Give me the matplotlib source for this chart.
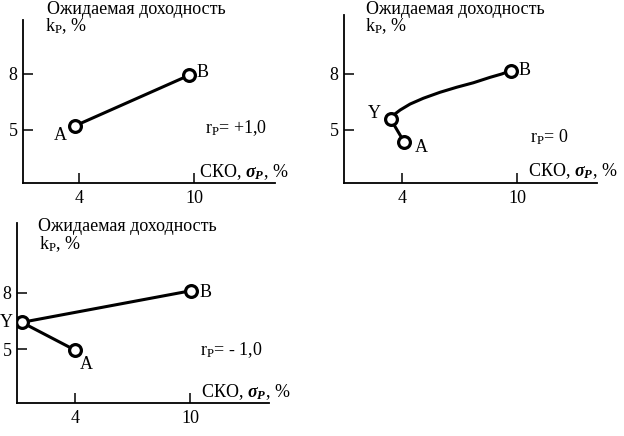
import matplotlib
matplotlib.use('Agg')
import matplotlib.pyplot as plt

plt.rcParams['font.family'] = ['Liberation Serif', 'DejaVu Serif']
plt.rcParams['mathtext.fontset'] = 'custom'
plt.rcParams['mathtext.rm'] = 'Liberation Serif'
plt.rcParams['mathtext.it'] = 'Liberation Serif:italic'
plt.rcParams['mathtext.bf'] = 'Liberation Serif:bold:italic'

W, H = 624, 436
FS = 13

# --- data (σ, k) ---
x_ticks = [4, 10]
y_ticks = [5, 8]

# r = +1
p1_x = [3.81, 9.74]
p1_y = [5.23, 7.93]
p1_names = ['A', 'B']

# r = 0 : A -> Y, then curve Y -> B
p2_x = [4.12, 3.41, 3.63, 3.90, 4.42, 5.11, 5.98, 6.85, 7.72, 8.59, 9.20, 9.67]
p2_y = [4.34, 5.57, 5.86, 6.07, 6.39, 6.70, 7.02, 7.29, 7.53, 7.82, 8.00, 8.18]
p2_pts_x = [4.12, 3.41, 9.67]
p2_pts_y = [4.34, 5.57, 8.18]
p2_names = ['A', 'Y', 'B']

# r = -1
p3_x = [4.0, 1.22, 10.03]
p3_y = [4.96, 6.43, 8.10]
p3_names = ['A', 'Y', 'B']

TITLE = 'Ожидаемая доходность'
YLAB = r'k$_{\mathrm{P}}$, %'
XLAB = r'СКО, $\mathbf{\sigma_{P}}$, %'


def px(x, y):
    return x / W, 1 - y / H


def make_axes(fig, left, right, top, bottom, xlim, ylim):
    ax = fig.add_axes([left / W, 1 - bottom / H, (right - left) / W, (bottom - top) / H])
    ax.set_xlim(*xlim)
    ax.set_ylim(*ylim)
    for s in ['top', 'right']:
        ax.spines[s].set_visible(False)
    for s in ['left', 'bottom']:
        ax.spines[s].set_linewidth(1.3)
    ax.set_xticks(x_ticks)
    ax.set_yticks(y_ticks)
    ax.tick_params(direction='in', length=7.5, width=1.1, labelsize=FS)
    ax.tick_params(axis='x', pad=5)
    ax.tick_params(axis='y', pad=4)
    ax.patch.set_alpha(0)
    return ax


def draw_points(ax, xs, ys, names, offsets):
    ax.plot(xs, ys, 'o', ms=8.5, mfc='white', mec='black', mew=2.3, zorder=3)
    for x, y, n, off in zip(xs, ys, names, offsets):
        ax.annotate(n, (x, y), xytext=off, textcoords='offset points',
                    ha='center', va='center', fontsize=FS)


def headers(fig, tx, ty, kx, ky, lx, ly, rx, ry, rtext):
    fig.text(*px(tx, ty), TITLE, fontsize=FS, ha='left', va='center')
    fig.text(*px(kx, ky), YLAB, fontsize=FS, ha='left', va='center')
    fig.text(*px(lx, ly), XLAB, fontsize=FS, ha='left', va='center')
    fig.text(*px(rx, ry), rtext, fontsize=FS, ha='left', va='center')


fig = plt.figure(figsize=(W / 100, H / 100), dpi=100)

# panel 1
ax1 = make_axes(fig, 23, 275, 20, 183, (1.08, 14.22), (2.16, 10.89))
ax1.plot(p1_x, p1_y, color='black', lw=2.2)
draw_points(ax1, p1_x, p1_y, p1_names, [(-11, -7), (10, 2)])
headers(fig, 47, 9, 45, 26, 199, 172, 205, 128, r'r$_{\mathrm{P}}$= +1,0')

# panel 2
ax2 = make_axes(fig, 344, 597, 15, 183, (0.97, 14.17), (2.16, 11.16))
ax2.plot(p2_x, p2_y, color='black', lw=2.2, solid_joinstyle='round')
draw_points(ax2, p2_pts_x, p2_pts_y, p2_names, [(12, -4), (-12, 4), (10, 0)])
headers(fig, 366, 9, 365, 26, 528, 171, 530, 137, r'r$_{\mathrm{P}}$= 0')

# panel 3
ax3 = make_axes(fig, 17, 269, 223, 403, (0.97, 14.12), (2.16, 11.69))
ax3.plot(p3_x, p3_y, color='black', lw=2.2)
draw_points(ax3, p3_x, p3_y, p3_names, [(8, -10), (-11, 0), (11, -1)])
headers(fig, 38, 226, 39, 244, 201, 392, 200, 350, r'r$_{\mathrm{P}}$= - 1,0')

fig.savefig('out.png', dpi=100, facecolor='white')
